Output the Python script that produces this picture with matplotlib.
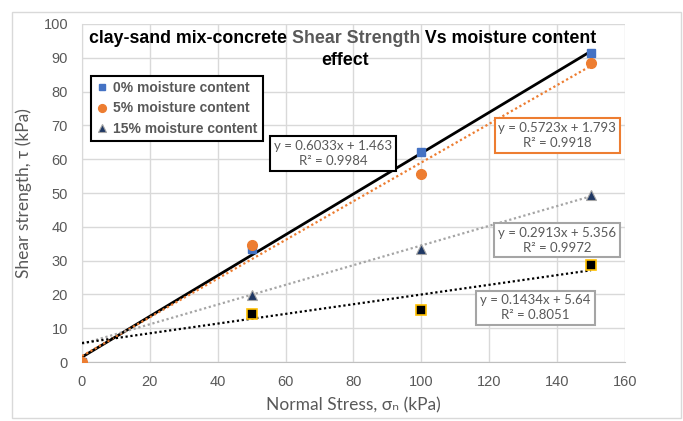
import numpy as np
import matplotlib.pyplot as plt
from matplotlib.patches import Rectangle

# normal stress (kPa)
stress_full = [0, 50, 100, 150]
stress_part = [50, 100, 150]

# shear strength readings (kPa)
shear_0 = [0, 33.4, 62.1, 91.3]
shear_5 = [0, 34.6, 55.6, 88.4]
shear_15 = [19.8, 33.4, 49.4]
shear_x = [14.3, 15.4, 28.7]

# trendline coefficients as printed on the chart
slopes = [0.6033, 0.5723, 0.2913, 0.1434]
intercepts = [1.463, 1.793, 5.356, 5.64]
r2 = [0.9984, 0.9918, 0.9972, 0.8051]

gray_txt = '#595959'
eq_font = ['Lato', 'DejaVu Sans']

fig = plt.figure(figsize=(6.83, 4.21), dpi=100)
ax = fig.add_axes([0.12, 0.14, 0.795, 0.803])

# outer chart border
fig.patches.append(Rectangle((12 / 683, 3 / 421), 669 / 683, 406 / 421, transform=fig.transFigure,
                             fill=False, edgecolor='#d9d9d9', lw=1))

xs = np.array([0, 150])
trend_styles = [
    dict(color='black', lw=2, ls='-'),
    dict(color='#ED7D31', lw=1.6, ls=(0, (1, 1.2))),
    dict(color='#A5A5A5', lw=1.6, ls=(0, (1, 1.2))),
    dict(color='black', lw=1.6, ls=(0, (1, 1.2))),
]
for m, c, st in zip(slopes, intercepts, trend_styles):
    ax.plot(xs, m * xs + c, zorder=3, **st)

ax.plot(stress_full, shear_0, 's', color='#4472C4', ms=6, zorder=4,
        label='0% moisture content')
ax.plot(stress_full, shear_5, 'o', color='#ED7D31', ms=7, zorder=5,
        label='5% moisture content')
ax.plot(stress_part, shear_15, '^', color='#1F3864', mec='#A5A5A5', mew=0.8, ms=7,
        zorder=5, label='15% moisture content')
ax.plot(stress_part, shear_x, 's', color='black', mec='#FFC000', mew=1.2, ms=7,
        zorder=5, label='_nolegend_')

ax.set_xlim(0, 160)
ax.set_ylim(0, 100)
ax.set_xticks(range(0, 161, 20))
ax.set_yticks(range(0, 101, 10))
ax.grid(True, color='#d9d9d9', lw=1)
ax.set_axisbelow(True)
for s in ['top', 'right']:
    ax.spines[s].set_visible(False)
ax.spines['left'].set_color('#d9d9d9')
ax.spines['bottom'].set_color('#bfbfbf')
ax.tick_params(length=0, labelsize=10.5, labelcolor=gray_txt)
ax.tick_params(axis='y', pad=10)
ax.tick_params(axis='x', pad=9)
for lab in ax.get_xticklabels() + ax.get_yticklabels():
    lab.set_family('Liberation Sans')

ax.set_xlabel('Normal Stress, σₙ (kPa)', fontsize=12.5, color=gray_txt, family=eq_font, labelpad=6)
ax.set_ylabel('Shear strength, τ (kPa)', fontsize=12.5, color=gray_txt, family=eq_font, labelpad=8)

leg = ax.legend(loc='upper left', bbox_to_anchor=(0.003, 0.868), fancybox=False,
                framealpha=1, edgecolor='black', handlelength=0.8, handletextpad=0.4,
                borderpad=0.4, labelspacing=0.45, markerscale=0.8,
                prop={'family': 'Liberation Sans', 'weight': 'bold', 'size': 10})
leg.get_frame().set_linewidth(1.5)
for t in leg.get_texts():
    t.set_color(gray_txt)

# title pieces, first line in three colours
t1 = fig.text(89 / 683, 1 - 43 / 421, 'clay-sand mix-concrete ', fontsize=12.8,
              weight='bold', family='Liberation Sans', color='black', va='baseline')
t2 = ax.annotate('Shear Strength', xy=(1, 0), xycoords=t1, va='bottom', fontsize=12.8,
                 weight='bold', family='Liberation Sans', color=gray_txt)
t3 = ax.annotate(' Vs moisture content', xy=(1, 0), xycoords=t2, va='bottom', fontsize=12.8,
                 weight='bold', family='Liberation Sans', color='black')
fig.text(345 / 683, 1 - 65 / 421, 'effect', fontsize=12.8, weight='bold',
         family='Liberation Sans', color='black', ha='center', va='baseline')

# trendline equation boxes
box_pos = [(74, 61.8), (140.1, 66.9), (140.1, 36.1), (133.6, 16.0)]
box_edges = ['black', '#ED7D31', '#A5A5A5', '#A5A5A5']
for m, c, r, (bx, by), ec in zip(slopes, intercepts, r2, box_pos, box_edges):
    ax.text(bx, by, f'y = {m}x + {c}\nR² = {r}', ha='center', va='center',
            fontsize=9.5, color=gray_txt, family=eq_font, linespacing=1.3, zorder=6,
            bbox=dict(boxstyle='square,pad=0.3', fc='white', ec=ec, lw=1.5))

fig.savefig('out.png', dpi=100)
